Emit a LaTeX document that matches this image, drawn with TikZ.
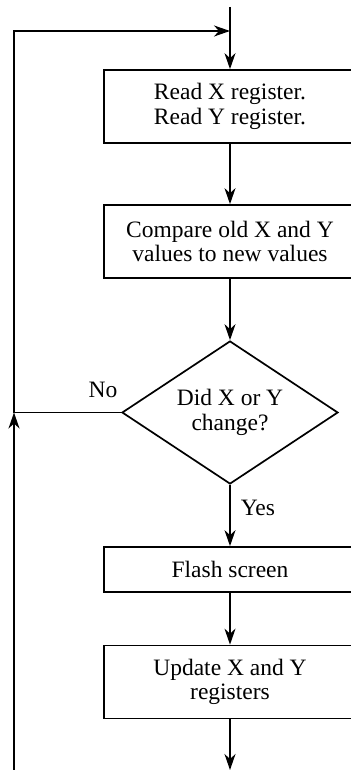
\documentclass[tikz,border=0pt]{standalone}
\usepackage{fontspec}
\setmainfont{Liberation Serif}
\usetikzlibrary{shapes.geometric,arrows.meta,positioning}
\tikzset{>={Stealth[length=8pt,width=5.5pt,inset=2.5pt]}}
\tikzset{procbox/.style={draw, minimum width=126pt, minimum height=36.5pt,
    inner sep=0pt, align=center}}
\tikzset{decision/.style={draw, diamond, aspect=1.51, minimum width=108pt,
    minimum height=71.5pt, inner sep=0pt, align=center}}

\begin{document}
\begin{tikzpicture}[x=0.5pt, y=-0.5pt, line width=0.85pt,
    font=\fontsize{11.75}{12.25}\selectfont]
  \useasboundingbox (0,0) rectangle (351,770);
  % flow steps
  \node[procbox] (read) at (230,106.5) {Read X register.\\Read Y register.};
  \node[procbox] (comp) at (230,241.5) {Compare old X and Y\\values to new values};
  \node[decision] (chg) at (230,412.5) {Did X or Y\\change?};
  \node[procbox, minimum height=22.5pt] (flash) at (230,569.5) {Flash screen};
  \node[procbox] (upd) at (230,682) {Update X and Y\\registers};
  % free ends of the connectors
  \coordinate (start) at (230,7);
  \coordinate (join) at (230,31);
  \coordinate (stop) at (230,770);
  \coordinate (back) at (14,412.5);
  \coordinate (corner) at (14,31);
  \coordinate (bottom) at (14,770);
  \draw[->] (start) -- (read);
  \draw[->] (read) -- (comp);
  \draw[->] (comp) -- (chg);
  \draw[->] (chg) -- node[right, pos=0.37, inner sep=5pt] {Yes} (flash);
  \draw[->] (flash) -- (upd);
  \draw[->] (upd) -- (stop);
  \draw (chg.west) -- node[above, pos=0.17, inner sep=7pt] {No} (back);
  \draw[->] (bottom) -- (back);
  \draw[->] (back) -- (corner) -- (join);
\end{tikzpicture}
\end{document}
